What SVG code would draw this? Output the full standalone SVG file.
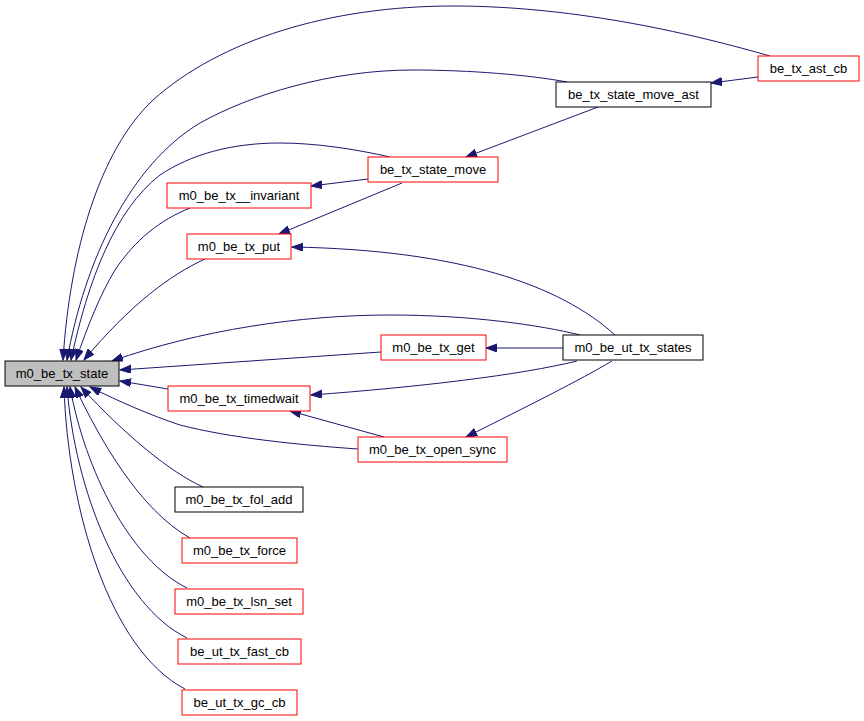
<svg xmlns="http://www.w3.org/2000/svg" width="864" height="721" viewBox="0 0 864 721">
<style>
  .n rect { fill: #ffffff; stroke: #ff0000; stroke-width: 1; }
  .n.b rect { stroke: #000000; }
  .n.main rect { fill: #bfbfbf; stroke: #000000; }
  .n text { font-family: "Liberation Sans", Arial, sans-serif; font-size: 13px; fill: #000000; text-anchor: middle; }
  .e path { fill: none; stroke: #191970; stroke-width: 1; marker-end: url(#arr); }
</style>
<defs>
  <marker id="arr" markerUnits="userSpaceOnUse" markerWidth="13" markerHeight="10" refX="11" refY="4" orient="auto">
    <path d="M0,0 L11,4 L0,8 z" fill="#191970" stroke="#191970" stroke-width="1"/>
  </marker>
</defs>
<rect width="864" height="721" fill="#ffffff"/>
<g id="edges" class="e">
  <path d="M770,56 C700,36 580,6 453,6 C330,6 220,40 153,100 C100,150 70,250 63,360"/>
  <path d="M567,82 C530,75 470,70 413,70 C330,70 250,95 200,123 C130,165 85,260 67,360"/>
  <path d="M390,157 C355,149 315,143 280,143 C230,143 190,155 160,175 C115,210 88,280 71,360"/>
  <path d="M190,208 C160,220 135,240 115,270 C100,295 88,325 76,360"/>
  <path d="M205,259 C170,275 130,305 84,360"/>
  <path d="M580,335 C540,325 470,315 390,315 C300,315 200,330 112,361"/>
  <path d="M381,352 L120,370"/>
  <path d="M168,389 L120,381"/>
  <path d="M358,449 C300,445 230,438 180,425 C150,415 120,402 90,387"/>
  <path d="M203,487 C170,472 125,435 81,387"/>
  <path d="M190,538 C140,510 100,440 75,387"/>
  <path d="M187,588 C130,560 85,470 70,387"/>
  <path d="M187,638 C120,605 75,490 67,387"/>
  <path d="M185,689 C110,650 68,510 64,387"/>
  <path d="M758,77 L711,83"/>
  <path d="M598,107 L466,157"/>
  <path d="M368,179 L311,186"/>
  <path d="M402,183 L279,234"/>
  <path d="M615,335 C560,285 460,250 292,247"/>
  <path d="M563,348 L486,348"/>
  <path d="M577,361 C520,375 420,387 311,395"/>
  <path d="M612,361 C580,380 530,405 466,437"/>
  <path d="M384,437 L290,411"/>
</g>
<g id="node-m0_be_tx_state" class="n main"><rect x="5" y="361" width="114" height="25"/><text x="62" y="378">m0_be_tx_state</text></g>
<g id="node-be_tx_ast_cb" class="n"><rect x="758" y="56" width="101" height="25"/><text x="808.5" y="73">be_tx_ast_cb</text></g>
<g id="node-be_tx_state_move_ast" class="n b"><rect x="556" y="82" width="155" height="25"/><text x="633.5" y="99">be_tx_state_move_ast</text></g>
<g id="node-be_tx_state_move" class="n"><rect x="368" y="157" width="130" height="25"/><text x="433" y="174">be_tx_state_move</text></g>
<g id="node-m0_be_tx__invariant" class="n"><rect x="167" y="183" width="144" height="25"/><text x="239" y="200">m0_be_tx__invariant</text></g>
<g id="node-m0_be_tx_put" class="n"><rect x="187" y="234" width="104" height="25"/><text x="239" y="251">m0_be_tx_put</text></g>
<g id="node-m0_be_tx_get" class="n"><rect x="381" y="335" width="105" height="25"/><text x="433.5" y="352">m0_be_tx_get</text></g>
<g id="node-m0_be_ut_tx_states" class="n b"><rect x="563" y="335" width="140" height="25"/><text x="633" y="352">m0_be_ut_tx_states</text></g>
<g id="node-m0_be_tx_timedwait" class="n"><rect x="168" y="386" width="142" height="25"/><text x="239" y="403">m0_be_tx_timedwait</text></g>
<g id="node-m0_be_tx_open_sync" class="n"><rect x="358" y="437" width="149" height="25"/><text x="432.5" y="454">m0_be_tx_open_sync</text></g>
<g id="node-m0_be_tx_fol_add" class="n b"><rect x="175" y="487" width="128" height="25"/><text x="239" y="504">m0_be_tx_fol_add</text></g>
<g id="node-m0_be_tx_force" class="n"><rect x="182" y="538" width="115" height="25"/><text x="239.5" y="555">m0_be_tx_force</text></g>
<g id="node-m0_be_tx_lsn_set" class="n"><rect x="175" y="589" width="128" height="25"/><text x="239" y="606">m0_be_tx_lsn_set</text></g>
<g id="node-be_ut_tx_fast_cb" class="n"><rect x="178" y="639" width="123" height="25"/><text x="239.5" y="656">be_ut_tx_fast_cb</text></g>
<g id="node-be_ut_tx_gc_cb" class="n"><rect x="182" y="690" width="115" height="25"/><text x="239.5" y="707">be_ut_tx_gc_cb</text></g>
</svg>
